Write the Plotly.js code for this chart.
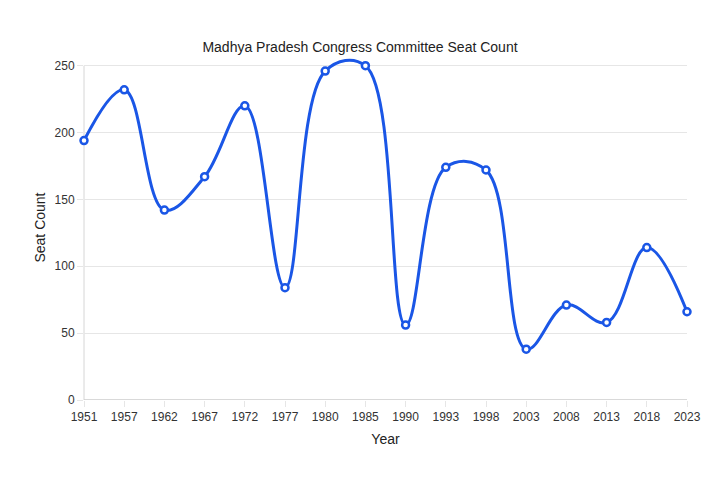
<!DOCTYPE html>
<html>
<head>
<meta charset="utf-8">
<script src="https://cdn.plot.ly/plotly-3.0.1.min.js"></script>
<style>
  html, body { margin: 0; padding: 0; background: #fff; }
  #chart { width: 720px; height: 480px; }
</style>
</head>
<body>
<div id="chart"></div>
<script>
// Election years (evenly spaced categories) and seats won
const years = ['1951', '1957', '1962', '1967', '1972', '1977', '1980', '1985',
               '1990', '1993', '1998', '2003', '2008', '2013', '2018', '2023'];
const seats = [194, 232, 142, 167, 220, 84, 246, 250, 56, 174, 172, 38, 71, 58, 114, 66];
const yTicks = [0, 50, 100, 150, 200, 250];

const lineColor = '#1a56e6';
const yMax = 250;
// a little headroom above the top tick so the curve between 1980 and 1985 is not clipped
const yTop = 258;
const plotH = 334 * yTop / yMax;

const trace = {
    x: years,
    y: seats,
    type: 'scatter',
    mode: 'lines+markers',
    line: { color: lineColor, width: 3, shape: 'spline', smoothing: 1.1 },
    marker: { symbol: 'circle', size: 7, color: '#ffffff', line: { color: lineColor, width: 2.5 } },
    cliponaxis: false,
    hoverinfo: 'x+y'
};

const layout = {
    width: 720,
    height: 480,
    margin: { l: 84, r: 33, t: 400 - plotH, b: 80 },
    paper_bgcolor: '#ffffff',
    plot_bgcolor: '#ffffff',
    showlegend: false,
    font: { family: 'Arial, Liberation Sans, sans-serif', color: '#333', size: 12 },
    title: {
        text: 'Madhya Pradesh Congress Committee Seat Count',
        font: { size: 14, color: '#222' },
        x: 0.5, xanchor: 'center', y: 0.902, yanchor: 'middle'
    },
    xaxis: {
        type: 'category',
        range: [0, years.length - 1],
        showgrid: false,
        zeroline: false,
        showline: false,
        ticks: 'outside',
        ticklen: 6,
        tickcolor: '#e6e6e6',
        tickfont: { size: 12, color: '#333' },
        title: { text: 'Year', font: { size: 14, color: '#222' }, standoff: 10 }
    },
    yaxis: {
        range: [0, yTop],
        tickvals: yTicks,
        showgrid: true,
        gridcolor: '#e6e6e6',
        zeroline: false,
        showline: false,
        ticks: 'outside',
        ticklen: 6,
        tickcolor: '#e6e6e6',
        tickfont: { size: 12, color: '#333' },
        title: { text: 'Seat Count', font: { size: 14, color: '#222' }, standoff: 5 }
    },
    shapes: [
        // left axis line, stopping at the top tick
        { type: 'line', xref: 'paper', yref: 'y', x0: 0, x1: 0, y0: 0, y1: yMax,
          line: { color: '#d6d6d6', width: 1 }, layer: 'below' },
        // bottom axis line
        { type: 'line', xref: 'paper', yref: 'y', x0: 0, x1: 1, y0: 0, y1: 0,
          line: { color: '#cccccc', width: 1.5 }, layer: 'below' }
    ].concat(years.slice(1).map(yr => ({
        // vertical grid lines, stopping at the top tick
        type: 'line', xref: 'x', yref: 'y', x0: yr, x1: yr, y0: 0, y1: yMax,
        line: { color: '#e6e6e6', width: 1 }, layer: 'below'
    })))
};

Plotly.newPlot('chart', [trace], layout, { staticPlot: true, displayModeBar: false });
</script>
</body>
</html>
